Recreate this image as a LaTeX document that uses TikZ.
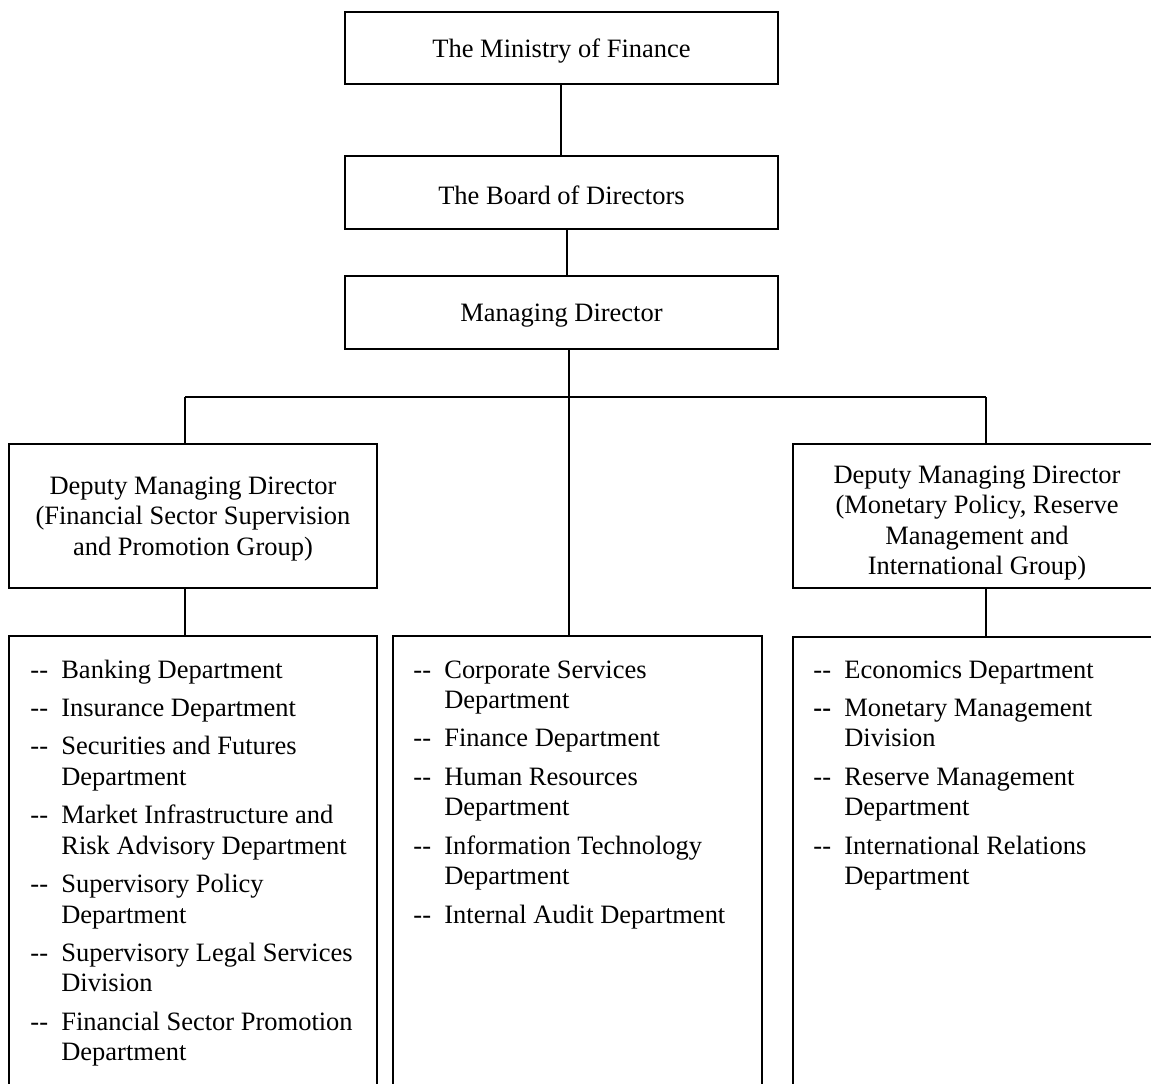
\documentclass[tikz,border=0pt]{standalone}
\usepackage{fontspec}
\setmainfont{Liberation Serif}
\usetikzlibrary{fit,calc}

% two separate hyphens, kept apart so they never become an en dash
\newcommand\dd{\mbox{-}\mbox{-}}
\newcommand\bdd{\textbf{\dd}}
% one list entry: dash column, then the text
\newcommand\di[2][\dd]{\makebox[14pt][l]{#1}&#2}

\tikzset{
  box/.style={draw, line width=0.8pt, inner sep=0pt},
  boxtext/.style={align=center, inner sep=0pt, yshift=-1.3pt},
  link/.style={line width=0.8pt},
  deptlist/.style={inner sep=0pt, anchor=base west},
}

\begin{document}
\begin{tikzpicture}[x=0.453pt, y=-0.453pt,
  every node/.append style={font=\fontsize{12pt}{13.8pt}\selectfont}]
\clip (0,0) rectangle (1151,1084);

% top chain
\node[box, fit={(345,12) (778,84)}]   (mof) {};
\node[box, fit={(345,156) (778,229)}] (bod) {};
\node[box, fit={(345,276) (778,349)}] (md)  {};
\node[boxtext] (mof-t) at (mof.center) {The Ministry of Finance};
\node[boxtext] (bod-t) at (bod.center) {The Board of Directors};
\node[boxtext] (md-t)  at (md.center)  {Managing Director};

% deputies
\node[box, fit={(9,444) (377,588)}]    (dmdl) {};
\node[box, fit={(793,444) (1161,588)}] (dmdr) {};
\node[boxtext] (dmdl-t) at (dmdl.center)
  {Deputy Managing Director\\(Financial Sector Supervision\\and Promotion Group)};
\node[boxtext] (dmdr-t) at ($(dmdr.center)+(0,4)$)
  {Deputy Managing Director\\(Monetary Policy, Reserve\\Management and\\International Group)};

% department boxes
\node[box, fit={(9,636) (377,1110)}]    (depl) {};
\node[box, fit={(393,636) (762,1110)}]  (depm) {};
\node[box, fit={(793,637) (1161,1110)}] (depr) {};

% junction points
\coordinate (ja) at (561,0);
\coordinate (jb) at (567,0);
\coordinate (jm) at (569,397);
\coordinate (jl) at (185,397);
\coordinate (jr) at (986,397);

% connectors
\draw[link] (mof.south -| ja) -- (bod.north -| ja);
\draw[link] (bod.south -| jb) -- (md.north -| jb);
\draw[link] (md.south -| jm) -- (depm.north -| jm);
\draw[link] (jl) -- (jr);
\draw[link] (jl) -- (dmdl.north -| jl);
\draw[link] (jr) -- (dmdr.north -| jr);
\draw[link] (dmdl.south -| jl) -- (depl.north -| jl);
\draw[link] (dmdr.south -| jr) -- (depr.north -| jr);

% department lists
\node[deptlist] (listl) at (30,678) {\begin{tabular}[t]{@{}l@{}l@{}}
\di{Banking Department}\\[3.6pt]
\di{Insurance Department}\\[3.6pt]
\di{Securities and Futures}\\
&Department\\[3.6pt]
\di{Market Infrastructure and}\\
&Risk Advisory Department\\[3.6pt]
\di{Supervisory Policy}\\
&Department\\[3.6pt]
\di{Supervisory Legal Services}\\
&Division\\[3.6pt]
\di{Financial Sector Promotion}\\
&Department
\end{tabular}};

\node[deptlist] (listm) at (413,678) {\begin{tabular}[t]{@{}l@{}l@{}}
\di{Corporate Services}\\
&Department\\[3.6pt]
\di{Finance Department}\\[3.6pt]
\di{Human Resources}\\
&Department\\[3.6pt]
\di{Information Technology}\\
&Department\\[3.6pt]
\di{Internal Audit Department}
\end{tabular}};

\node[deptlist] (listr) at (813,678) {\begin{tabular}[t]{@{}l@{}l@{}}
\di{Economics Department}\\[3.6pt]
\di[\bdd]{Monetary Management}\\
&Division\\[3.6pt]
\di{Reserve Management}\\
&Department\\[3.6pt]
\di{International Relations}\\
&Department
\end{tabular}};
\end{tikzpicture}
\end{document}
